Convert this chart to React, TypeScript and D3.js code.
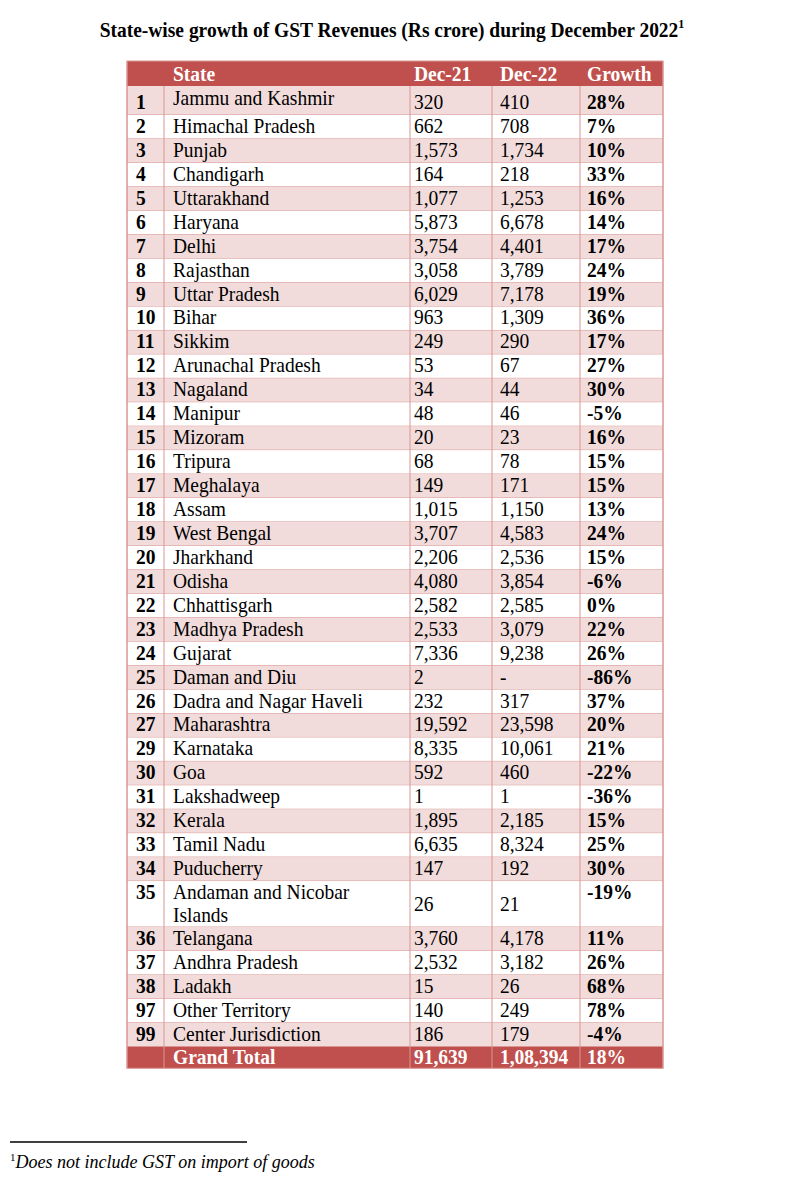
import React from "react";
import * as d3 from "d3";

const codes: string[] = ["1","2","3","4","5","6","7","8","9","10","11","12","13","14","15","16","17","18","19","20","21","22","23","24","25","26","27","29","30","31","32","33","34","35","36","37","38","97","99"];
const states: string[] = ["Jammu and Kashmir","Himachal Pradesh","Punjab","Chandigarh","Uttarakhand","Haryana","Delhi","Rajasthan","Uttar Pradesh","Bihar","Sikkim","Arunachal Pradesh","Nagaland","Manipur","Mizoram","Tripura","Meghalaya","Assam","West Bengal","Jharkhand","Odisha","Chhattisgarh","Madhya Pradesh","Gujarat","Daman and Diu","Dadra and Nagar Haveli","Maharashtra","Karnataka","Goa","Lakshadweep","Kerala","Tamil Nadu","Puducherry","Andaman and Nicobar|Islands","Telangana","Andhra Pradesh","Ladakh","Other Territory","Center Jurisdiction"];
const dec21: (number | null)[] = [320,662,1573,164,1077,5873,3754,3058,6029,963,249,53,34,48,20,68,149,1015,3707,2206,4080,2582,2533,7336,2,232,19592,8335,592,1,1895,6635,147,26,3760,2532,15,140,186];
const dec22: (number | null)[] = [410,708,1734,218,1253,6678,4401,3789,7178,1309,290,67,44,46,23,78,171,1150,4583,2536,3854,2585,3079,9238,null,317,23598,10061,460,1,2185,8324,192,21,4178,3182,26,249,179];
const growth: number[] = [28,7,10,33,16,14,17,24,19,36,17,27,30,-5,16,15,15,13,24,15,-6,0,22,26,-86,37,20,21,-22,-36,15,25,30,-19,11,26,68,78,-4];
const headers: string[] = ["", "State", "Dec-21", "Dec-22", "Growth"];
const totalLabel = "Grand Total";
const totalValues: number[] = [91639, 108394, 18];
const title = "State-wise growth of GST Revenues (Rs crore) during December 2022";
const footnote = "Does not include GST on import of goods";

const RED = "#c0504d";
const PINK = "#f2dcdb";
const BORDER = "#d99694";
const FONT = "'Liberation Serif', 'Times New Roman', serif";
const SY = 1.09;

function indian(n: number | null): string {
  if (n === null) return "-";
  const s = String(Math.abs(n));
  if (s.length <= 3) return (n < 0 ? "-" : "") + s;
  const last3 = s.slice(-3);
  let rest = s.slice(0, -3);
  const parts: string[] = [];
  while (rest.length > 2) {
    parts.unshift(rest.slice(-2));
    rest = rest.slice(0, -2);
  }
  if (rest) parts.unshift(rest);
  return (n < 0 ? "-" : "") + parts.join(",") + "," + last3;
}

function T(props: { x: number; y: number; children: React.ReactNode; bold?: boolean; fill?: string; anchor?: string; size?: number }) {
  return (
    <text
      transform={`translate(${props.x},${props.y}) scale(1,${SY})`}
      fontWeight={props.bold ? "bold" : "normal"}
      fill={props.fill || "#000"}
      textAnchor={props.anchor || "start"}
      fontSize={props.size || 19.5}
    >
      {props.children}
    </text>
  );
}

export default function App() {
  const colEdges = [127, 164, 410, 492, 580, 663];
  const textX = [136, 173, 414, 500, 587];

  const unit = 23.94;
  const rowH = states.map((s, i) => {
    const lines = s.split("|").length;
    if (i === 0) return 29;
    return lines === 1 ? unit : 46;
  });
  const headerTop = 61;
  const headerH = 25;
  const tops: number[] = [];
  let acc = headerTop + headerH;
  rowH.forEach((h) => {
    tops.push(acc);
    acc += h;
  });
  const totalTop = acc;
  const totalH = 21.5;
  const tableBottom = totalTop + totalH;

  const y = d3.scaleLinear().domain([0, 1]).range([0, 1]);

  const rows = states.map((s, i) => {
    const top = y(tops[i]);
    const h = rowH[i];
    const bottom = top + h;
    const lines = s.split("|");
    const fill = i % 2 === 0 ? PINK : "#ffffff";
    const valY = lines.length > 1 ? top + h / 2 + 7 : bottom - 6;
    const nameY = i === 0 ? top + 19 : bottom - 6;
    const growthY = lines.length > 1 ? top + 18 : bottom - 6;
    return (
      <g key={i}>
        <rect x={colEdges[0]} y={top} width={colEdges[5] - colEdges[0]} height={h} fill={fill} />
        <T x={textX[0]} y={lines.length > 1 ? top + 18 : bottom - 6} bold>{codes[i]}</T>
        {lines.length > 1 ? (
          lines.map((l, k) => (
            <T key={k} x={textX[1]} y={top + 18 + k * 23}>{l}</T>
          ))
        ) : (
          <T x={textX[1]} y={nameY}>{s}</T>
        )}
        <T x={textX[2]} y={valY}>{indian(dec21[i])}</T>
        <T x={textX[3]} y={valY}>{indian(dec22[i])}</T>
        <T x={textX[4]} y={growthY} bold>{growth[i] + "%"}</T>
        <line x1={colEdges[0]} x2={colEdges[5]} y1={bottom} y2={bottom} stroke={BORDER} strokeWidth={1} />
      </g>
    );
  });

  return (
    <svg width={803} height={1200} style={{ position: "absolute", left: 0, top: 0, background: "#fff" }} fontFamily={FONT} fontSize={19.5} fill="#000">
      <text transform={`translate(392,37) scale(1,${SY})`} textAnchor="middle" fontWeight="bold" fontSize={19.5}>
        {title}
        <tspan fontSize={12} dy={-8}>1</tspan>
      </text>
      <rect x={colEdges[0]} y={headerTop} width={colEdges[5] - colEdges[0]} height={headerH} fill={RED} />
      {headers.map((h, i) => (
        <T key={i} x={textX[i]} y={headerTop + headerH - 5} fill="#fff" bold>{h}</T>
      ))}
      {rows}
      <rect x={colEdges[0]} y={totalTop} width={colEdges[5] - colEdges[0]} height={totalH} fill={RED} />
      <T x={textX[1]} y={tableBottom - 4} fill="#fff" bold>{totalLabel}</T>
      {totalValues.map((v, i) => (
        <T key={i} x={textX[i + 2]} y={tableBottom - 4} fill="#fff" bold>{i === 2 ? v + "%" : indian(v)}</T>
      ))}
      {colEdges.map((x, i) => (
        <line key={i} x1={x} x2={x} y1={i === 0 || i === 5 ? headerTop : headerTop + headerH} y2={i === 0 || i === 5 ? tableBottom : totalTop} stroke={BORDER} strokeWidth={1} />
      ))}
      {colEdges.slice(1, 5).map((x, i) => (
        <line key={"t" + i} x1={x} x2={x} y1={totalTop} y2={tableBottom} stroke={BORDER} strokeWidth={1} />
      ))}
      <rect x={colEdges[0]} y={headerTop} width={colEdges[5] - colEdges[0]} height={tableBottom - headerTop} fill="none" stroke={BORDER} strokeWidth={1} />
      <line x1={10} x2={247} y1={1142} y2={1142} stroke="#000" strokeWidth={1.5} />
      <text x={10} y={1168} fontSize={18}>
        <tspan fontSize={11} dy={-7}>1</tspan>
        <tspan fontStyle="italic" dy={7}>{footnote}</tspan>
      </text>
    </svg>
  );
}
